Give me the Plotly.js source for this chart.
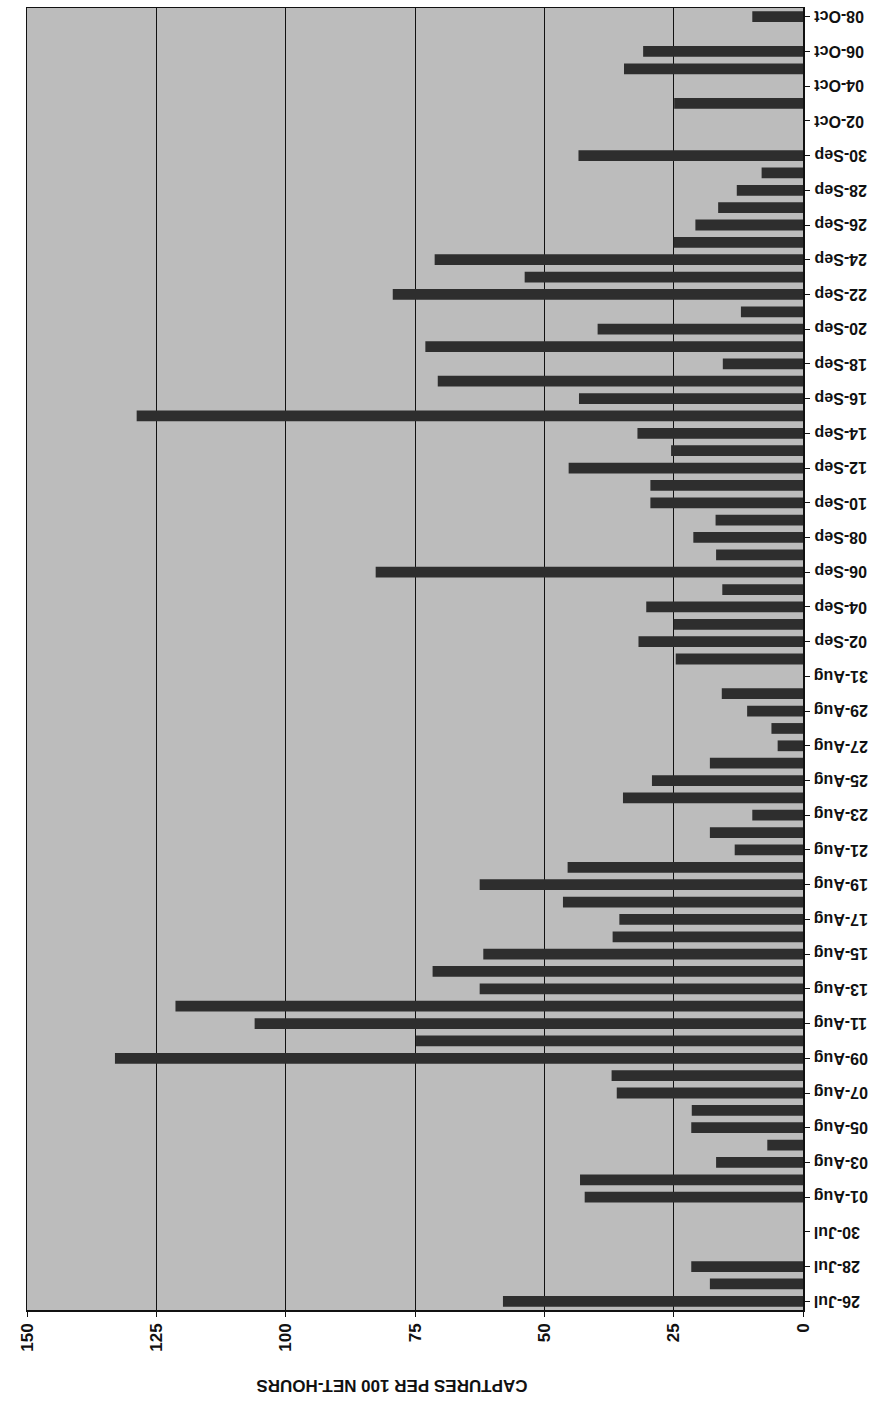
<!DOCTYPE html>
<html>
<head>
<meta charset="utf-8">
<script src="https://cdn.plot.ly/plotly-3.0.1.min.js"></script>
<style>html,body{margin:0;padding:0;background:#fff;}#chart{width:885px;height:1416px;}</style>
</head>
<body>
<div id="chart"></div>
<script>
// Dates (category axis), one per day from 26-Jul to 08-Oct
const dates = [
  "26-Jul","27-Jul","28-Jul","29-Jul","30-Jul","31-Jul",
  "01-Aug","02-Aug","03-Aug","04-Aug","05-Aug","06-Aug","07-Aug","08-Aug","09-Aug","10-Aug",
  "11-Aug","12-Aug","13-Aug","14-Aug","15-Aug","16-Aug","17-Aug","18-Aug","19-Aug","20-Aug",
  "21-Aug","22-Aug","23-Aug","24-Aug","25-Aug","26-Aug","27-Aug","28-Aug","29-Aug","30-Aug","31-Aug",
  "01-Sep","02-Sep","03-Sep","04-Sep","05-Sep","06-Sep","07-Sep","08-Sep","09-Sep","10-Sep",
  "11-Sep","12-Sep","13-Sep","14-Sep","15-Sep","16-Sep","17-Sep","18-Sep","19-Sep","20-Sep",
  "21-Sep","22-Sep","23-Sep","24-Sep","25-Sep","26-Sep","27-Sep","28-Sep","29-Sep","30-Sep",
  "01-Oct","02-Oct","03-Oct","04-Oct","05-Oct","06-Oct","07-Oct","08-Oct"
];
// Captures per 100 net-hours (null = no sampling)
const captures = [
  58, 18, 21.6, null, null, null,
  42.2, 43.1, 16.8, 6.9, 21.6, 21.5, 36, 37, 133, 74.8,
  106, 121.3, 62.5, 71.6, 61.8, 36.8, 35.5, 46.4, 62.5, 45.5,
  13.2, 18, 9.8, 34.8, 29.2, 18, 4.9, 6.1, 10.8, 15.7, null,
  24.6, 31.8, 25, 30.3, 15.6, 82.6, 16.8, 21.2, 16.9, 29.5,
  29.5, 45.3, 25.5, 32, 128.8, 43.3, 70.6, 15.5, 73, 39.7,
  12, 79.3, 53.8, 71.2, 25, 20.8, 16.4, 12.8, 8, 43.4,
  null, null, 24.9, null, 34.6, 30.9, null, 9.8
];
// Labelled ticks: every second day
const tickDates = dates.filter((d, i) => i % 2 === 0);
const valueTicks = [0, 25, 50, 75, 100, 125, 150];
const axisTitle = "CAPTURES PER 100 NET-HOURS";

const font = "Liberation Sans, Arial, sans-serif";

const trace = {
  type: "bar",
  orientation: "h",
  y: dates,
  x: captures,
  marker: { color: "#2e2e2e", line: { width: 0 } },
  hoverinfo: "x+y"
};

// Upside-down date labels, placed on the category axis scale
const dateLabels = tickDates.map(d => ({
  text: d,
  xref: "paper", yref: "y",
  x: 1, y: d,
  xanchor: "left", yanchor: "middle",
  xshift: 9,
  showarrow: false,
  textangle: 180,
  font: { family: font, size: 16, color: "#111", weight: "bold" }
}));

const layout = {
  width: 885,
  height: 1416,
  margin: { l: 27, r: 82, t: 8, b: 106 },
  paper_bgcolor: "#ffffff",
  plot_bgcolor: "#bcbcbc",
  showlegend: false,
  bargap: 0.38,
  font: { family: font, color: "#111", size: 15 },
  xaxis: {
    range: [150, 0],
    tickvals: valueTicks,
    ticktext: valueTicks.map(String),
    tickangle: -90,
    tickfont: { family: font, size: 17, color: "#111", weight: "bold" },
    showgrid: true,
    gridcolor: "#111",
    gridwidth: 1,
    zeroline: false,
    showline: true,
    linecolor: "#111",
    linewidth: 1.5,
    mirror: true,
    ticks: "outside",
    ticklen: 5,
    tickcolor: "#111",
    fixedrange: true
  },
  yaxis: {
    type: "category",
    categoryorder: "array",
    categoryarray: dates,
    range: [-0.5, dates.length - 0.5],
    side: "right",
    tickvals: tickDates,
    showticklabels: false,
    showgrid: false,
    zeroline: false,
    showline: true,
    linecolor: "#111",
    linewidth: 1.5,
    mirror: true,
    ticks: "outside",
    ticklen: 5,
    tickcolor: "#111",
    fixedrange: true
  },
  annotations: dateLabels.concat([{
    text: axisTitle,
    xref: "paper", yref: "paper",
    x: 0.47, y: -0.058,
    xanchor: "center", yanchor: "middle",
    showarrow: false,
    textangle: 180,
    font: { family: font, size: 17, color: "#111", weight: "bold" }
  }])
};

Plotly.newPlot("chart", [trace], layout, { displayModeBar: false, staticPlot: true });
</script>
</body>
</html>
